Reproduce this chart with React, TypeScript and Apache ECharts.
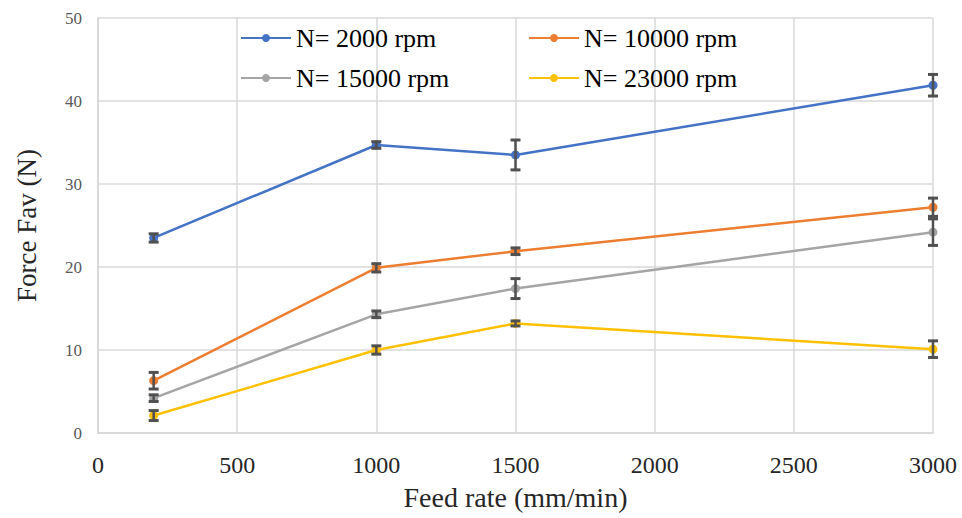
import React, { useEffect, useRef } from "react";
import * as echarts from "echarts";

const feedRates = [200, 1000, 1500, 3000];
const seriesNames = ["N= 2000 rpm", "N= 10000 rpm", "N= 15000 rpm", "N= 23000 rpm"];
const f2000 = [23.5, 34.7, 33.5, 41.9];
const f10000 = [6.3, 19.9, 21.9, 27.2];
const f15000 = [4.2, 14.3, 17.4, 24.2];
const f23000 = [2.1, 10.0, 13.2, 10.1];
const e2000 = [0.5, 0.4, 1.8, 1.3];
const e10000 = [1.0, 0.5, 0.4, 1.1];
const e15000 = [0.4, 0.4, 1.2, 1.6];
const e23000 = [0.6, 0.5, 0.3, 1.0];
const xTicks = [0, 500, 1000, 1500, 2000, 2500, 3000];
const yTicks = [0, 10, 20, 30, 40, 50];

const colors = ["#4472C4", "#ED7D31", "#A5A5A5", "#FFC000"];
const FONT = "Liberation Serif, Times New Roman, serif";

export default function App() {
  const ref = useRef<HTMLDivElement>(null);
  useEffect(() => {
    if (!ref.current) return;
    const chart = echarts.init(ref.current, undefined, { renderer: "svg" });
    const values = [f2000, f10000, f15000, f23000];
    const errs = [e2000, e10000, e15000, e23000];
    const lineSeries: any[] = values.map((v, i) => ({
      name: seriesNames[i],
      type: "line",
      data: feedRates.map((x, j) => [x, v[j]]),
      symbol: "circle",
      symbolSize: 9,
      lineStyle: { width: 2.5, color: colors[i] },
      itemStyle: { color: colors[i] },
      z: 2,
    }));
    const errSeries: any[] = values.map((v, i) => ({
      name: seriesNames[i] + " err",
      type: "custom",
      data: feedRates.map((x, j) => [x, v[j], errs[i][j]]),
      encode: { x: 0, y: 1 },
      z: 3,
      silent: true,
      renderItem: (params: any, api: any) => {
        const x = api.value(0);
        const y = api.value(1);
        const e = api.value(2);
        const top = api.coord([x, y + e]);
        const bot = api.coord([x, y - e]);
        const hw = 5;
        const st = { stroke: "#505050", lineWidth: 2.5 };
        return {
          type: "group",
          children: [
            { type: "line", shape: { x1: top[0], y1: top[1], x2: bot[0], y2: bot[1] }, style: st },
            { type: "line", shape: { x1: top[0] - hw, y1: top[1], x2: top[0] + hw, y2: top[1] }, style: { ...st, lineWidth: 3 } },
            { type: "line", shape: { x1: bot[0] - hw, y1: bot[1], x2: bot[0] + hw, y2: bot[1] }, style: { ...st, lineWidth: 3 } },
          ],
        };
      },
    }));
    const legendCommon = {
      orient: "vertical",
      itemWidth: 50,
      itemHeight: 10,
      itemGap: 14,
      textStyle: { fontFamily: FONT, fontSize: 26, color: "#000" },
    };
    chart.setOption({
      animation: false,
      color: colors,
      textStyle: { fontFamily: FONT },
      legend: [
        { ...legendCommon, data: [seriesNames[0], seriesNames[2]], left: 235, top: 20 },
        { ...legendCommon, data: [seriesNames[1], seriesNames[3]], left: 523, top: 20 },
      ],
      grid: { left: 98, right: 29, top: 18, bottom: 85, containLabel: false, outerBoundsMode: "none" },
      xAxis: {
        type: "value",
        min: xTicks[0],
        max: xTicks[xTicks.length - 1],
        interval: xTicks[1] - xTicks[0],
        name: "Feed rate (mm/min)",
        nameLocation: "middle",
        nameGap: 50,
        nameTextStyle: { fontFamily: FONT, fontSize: 28, color: "#262626" },
        axisLine: { show: true, lineStyle: { color: "#D9D9D9", width: 2 } },
        axisTick: { show: false },
        axisLabel: {
          fontFamily: FONT,
          fontSize: 24,
          color: "#262626",
          margin: 20,
          formatter: (v: number) => String(v),
        },
        splitLine: { show: true, lineStyle: { color: "#D9D9D9", width: 1.5 } },
      },
      yAxis: {
        type: "value",
        min: yTicks[0],
        max: yTicks[yTicks.length - 1],
        interval: yTicks[1] - yTicks[0],
        name: "Force Fav (N)",
        nameLocation: "middle",
        nameGap: 58,
        nameTextStyle: { fontFamily: FONT, fontSize: 27, color: "#262626" },
        axisLine: { show: true, lineStyle: { color: "#D9D9D9", width: 2 } },
        axisTick: { show: false },
        axisLabel: { fontFamily: FONT, fontSize: 17, color: "#595959", margin: 16 },
        splitLine: { show: true, lineStyle: { color: "#D9D9D9", width: 1.5 } },
      },
      series: [...lineSeries, ...errSeries],
    });
    return () => chart.dispose();
  }, []);
  return <div ref={ref} style={{ width: 962, height: 518, position: "absolute", left: 0, top: 0, background: "#fff" }} />;
}
